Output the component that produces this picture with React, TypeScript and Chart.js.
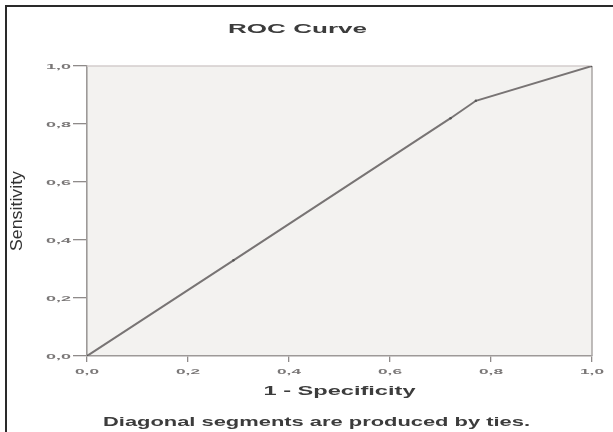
import { useEffect, useRef } from 'react';
import { Chart, registerables } from 'chart.js';

Chart.register(...registerables);

// ---- data ----
const rocFpr = [0, 0.29, 0.72, 0.77, 1.0];
const rocTpr = [0, 0.33, 0.82, 0.88, 1.0];
const tickValues = [0, 0.2, 0.4, 0.6, 0.8, 1.0];
const tickLabels = ['0,0', '0,2', '0,4', '0,6', '0,8', '1,0'];
const chartTitle = 'ROC Curve';
const xTitle = '1 - Specificity';
const yTitle = 'Sensitivity';
const footnote = 'Diagonal segments are produced by ties.';

const FONT = '"Liberation Sans", Arial, Helvetica, sans-serif';

function drawText(
  ctx: CanvasRenderingContext2D,
  text: string,
  x: number,
  y: number,
  font: string,
  width: number,
  color: string,
  align: CanvasTextAlign,
  rotate = 0,
  sy = 1
) {
  ctx.save();
  ctx.font = font;
  ctx.fillStyle = color;
  ctx.textAlign = align;
  ctx.textBaseline = 'alphabetic';
  const w = ctx.measureText(text).width || 1;
  ctx.translate(x, y);
  if (rotate) ctx.rotate(rotate);
  ctx.scale(width / w, sy);
  ctx.fillText(text, 0, 0);
  ctx.restore();
}

const spssPlugin = {
  id: 'spssDecor',
  beforeDraw(chart: any) {
    const { ctx, chartArea: a } = chart;
    ctx.save();
    ctx.fillStyle = '#f3f2f0';
    ctx.fillRect(a.left, a.top, a.right - a.left, a.bottom - a.top);
    ctx.restore();
  },
  beforeDatasetsDraw(chart: any) {
    const { ctx, chartArea: a } = chart;
    ctx.save();
    ctx.lineWidth = 1.5;
    ctx.strokeStyle = '#d3cccc';
    ctx.beginPath();
    ctx.moveTo(a.left, a.top);
    ctx.lineTo(a.right, a.top);
    ctx.stroke();
    ctx.strokeStyle = '#aaa6a5';
    ctx.beginPath();
    ctx.moveTo(a.right, a.top);
    ctx.lineTo(a.right, a.bottom);
    ctx.stroke();
    ctx.restore();
  },
  afterDraw(chart: any) {
    const { ctx, chartArea: a, scales } = chart;
    const cx = (a.left + a.right) / 2;
    // title
    drawText(ctx, chartTitle, 297.5, 33, `bold 13px ${FONT}`, 139, '#3c3c3c', 'center');
    // x axis title
    drawText(ctx, xTitle, cx, a.bottom + 39, `bold 12px ${FONT}`, 152, '#3c3c3c', 'center');
    // footnote
    drawText(ctx, footnote, 316.5, 426, `bold 12px ${FONT}`, 427, '#3c3c3c', 'center');
    // y axis title (rotated)
    drawText(ctx, yTitle, 22, (a.top + a.bottom) / 2, `15px ${FONT}`, 80, '#333333', 'center', -Math.PI / 2, 1.12);
    // tick labels
    tickValues.forEach((v, i) => {
      const px = scales.x.getPixelForValue(v);
      drawText(ctx, tickLabels[i], px, a.bottom + 18, `bold 8px ${FONT}`, 24, '#7a7777', 'center');
      const py = scales.y.getPixelForValue(v);
      drawText(ctx, tickLabels[i], a.left - 16, py + 2.8, `bold 8px ${FONT}`, 25, '#7a7777', 'right');
    });
  },
};

export default function App() {
  const ref = useRef<HTMLCanvasElement>(null);

  useEffect(() => {
    const canvas = ref.current;
    if (!canvas) return;
    const axisCommon = (tickLength: number) => ({
      type: 'linear' as const,
      min: 0,
      max: 1,
      afterBuildTicks: (s: any) => {
        s.ticks = tickValues.map((v) => ({ value: v }));
      },
      ticks: { display: false },
      grid: {
        drawOnChartArea: false,
        drawTicks: true,
        tickLength,
        color: '#8f8b8a',
        lineWidth: 1.3,
      },
      border: { display: true, color: '#9d9998', width: 1.6 },
    });
    const chart = new Chart(canvas, {
      type: 'line',
      data: {
        datasets: [
          {
            data: rocFpr.map((x, i) => ({ x, y: rocTpr[i] })),
            borderColor: '#787474',
            borderWidth: 2,
            pointRadius: 1.2,
            pointBackgroundColor: '#555',
            pointBorderWidth: 0,
            tension: 0,
            fill: false,
          },
        ],
      },
      options: {
        animation: false,
        responsive: false,
        maintainAspectRatio: false,
        devicePixelRatio: 1,
        layout: { padding: { left: 73, top: 66, right: 21, bottom: 70 } },
        plugins: {
          legend: { display: false },
          tooltip: { enabled: false },
          title: { display: false },
        },
        scales: {
          x: {
            ...axisCommon(6),
            position: 'bottom',
            afterFit: (s: any) => {
              s.height = 6;
            },
          },
          y: {
            ...axisCommon(14),
            position: 'left',
            afterFit: (s: any) => {
              s.width = 14;
            },
          },
        },
      } as any,
      plugins: [spssPlugin],
    });
    return () => chart.destroy();
  }, []);

  return (
    <div
      style={{
        position: 'fixed',
        left: 0,
        top: 0,
        width: 613,
        height: 432,
        background: '#fff',
        overflow: 'hidden',
      }}
    >
      <canvas
        ref={ref}
        width={613}
        height={432}
        style={{ position: 'absolute', left: 0, top: 0, width: 613, height: 432 }}
      />
      <div
        style={{
          position: 'absolute',
          left: 5,
          top: 5,
          right: 0,
          bottom: 0,
          borderTop: '2px solid #2a2a2a',
          borderLeft: '2px solid #2a2a2a',
          pointerEvents: 'none',
        }}
      />
    </div>
  );
}
